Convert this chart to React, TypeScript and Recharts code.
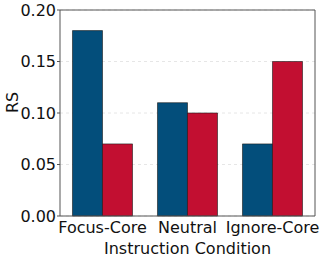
import React from 'react';
import { BarChart, Bar, XAxis, YAxis, CartesianGrid, Label } from 'recharts';

const conditions = ['Focus-Core', 'Neutral', 'Ignore-Core'];
const blueValues = [0.18, 0.11, 0.07];
const redValues = [0.07, 0.1, 0.15];
const yTicks = [0, 0.05, 0.1, 0.15, 0.2];

const data = conditions.map((c, i) => ({ condition: c, blue: blueValues[i], red: redValues[i] }));

const font = 'DejaVu Sans, sans-serif';
const frame = '#555555';

export default function App() {
  return (
    <div style={{ position: 'fixed', left: 0, top: 0, width: 324, height: 258, background: '#fff' }}>
      <BarChart
        width={324}
        height={258}
        data={data}
        margin={{ top: 9, right: 8, bottom: 0, left: 0 }}
        barCategoryGap="14.7%"
        barGap={0}
        style={{ fontFamily: font }}
      >
        <CartesianGrid vertical={false} horizontal={true} stroke="#e6e6e6" strokeDasharray="3 3" />
        <XAxis
          dataKey="condition"
          tickLine={false}
          axisLine={{ stroke: frame }}
          tick={{ fill: '#111', fontSize: 16 }}
          tickMargin={0}
          interval={0}
          height={42}
        >
          <Label value="Instruction Condition" position="insideBottom" offset={4} fill="#111" fontSize={16} />
        </XAxis>
        <XAxis xAxisId="top" dataKey="condition" orientation="top" tick={false} tickLine={false} axisLine={{ stroke: frame }} height={1} />
        <YAxis
          domain={[0, 0.2]}
          ticks={yTicks}
          tickFormatter={(v: number) => v.toFixed(2)}
          width={60}
          tickSize={3}
          tickLine={{ stroke: frame }}
          axisLine={{ stroke: frame }}
          tick={{ fill: '#111', fontSize: 16 }}
          tickMargin={1}
        >
          <Label value="RS" angle={-90} position="insideLeft" offset={12} fill="#111" fontSize={16} />
        </YAxis>
        <YAxis yAxisId="right" orientation="right" domain={[0, 0.2]} tick={false} tickLine={false} axisLine={{ stroke: frame }} width={1} />
        <Bar dataKey="blue" fill="#034e7b" stroke="#1a1a1a" strokeWidth={0.6} isAnimationActive={false} />
        <Bar dataKey="red" fill="#c20f31" stroke="#1a1a1a" strokeWidth={0.6} isAnimationActive={false} />
      </BarChart>
    </div>
  );
}
